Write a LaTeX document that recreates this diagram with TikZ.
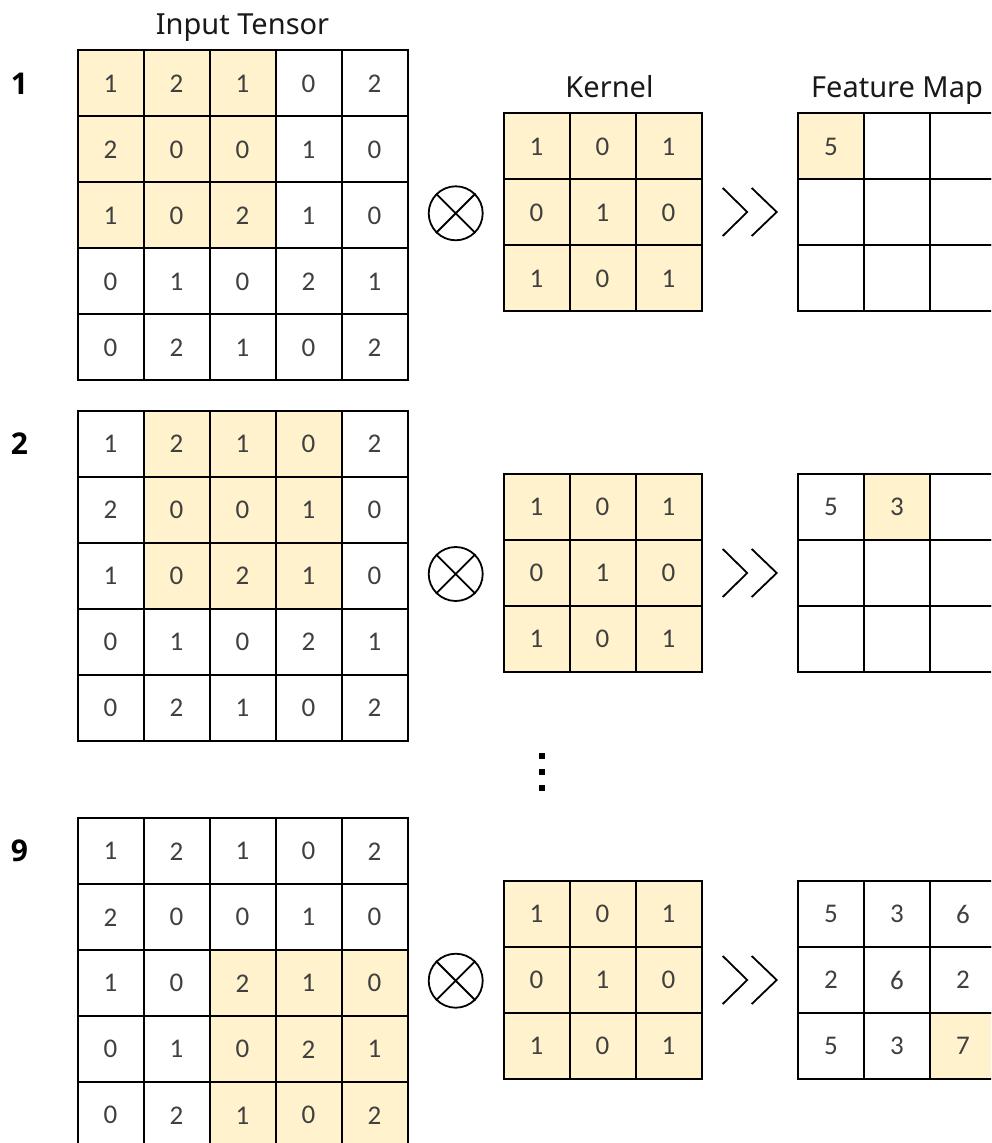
\documentclass[tikz,border=0pt]{standalone}
\usepackage{fontspec}
\usepackage{xcolor}
\usepackage{tikz}
\usetikzlibrary{positioning,calc}
\newfontfamily\cellfont{Carlito}
\newfontfamily\headfont{Noto Sans}
\newfontfamily\numfont{Open Sans}
\definecolor{winfill}{HTML}{FFF2CC}
\definecolor{digitgray}{HTML}{404040}
\newcommand{\inputvals}{1,2,1,0,2, 2,0,0,1,0, 1,0,2,1,0, 0,1,0,2,1, 0,2,1,0,2}
\newcommand{\kernelvals}{1,0,1, 0,1,0, 1,0,1}
% grid of cells: name, columns, left, top, window test, values
\newcommand{\cellgrid}[6]{%
  \edef\cellvals{#6}%
  \foreach \v [count=\i from 0] in \cellvals {
    \pgfmathtruncatemacro\rr{floor(\i/#2)}
    \pgfmathtruncatemacro\cc{mod(\i,#2)}
    \pgfmathtruncatemacro\hit{#5}
    \ifnum\hit=1 \def\cf{winfill}\else\def\cf{white}\fi
    \node[cell, fill=\cf] (#1-\rr-\cc) at ({#3+66*\cc+33},{#4+66*\rr+33}) {\v};
  }}
\tikzset{
  cell/.style  ={rectangle, draw=black, line width=1pt, minimum size=33pt,
                 inner sep=0pt, text=digitgray,
                 font=\cellfont\fontsize{13.5}{15}\selectfont},
  ttl/.style   ={font=\headfont\fontsize{14.5}{17}\selectfont,
                 text=black!90, inner sep=0pt},
  stepno/.style={font=\numfont\bfseries\fontsize{15}{18}\selectfont,
                 inner sep=0pt},
  conv/.style  ={circle, draw, line width=0.9pt, minimum size=27pt,
                 inner sep=0pt},
  chev/.style  ={line width=0.9pt},
}

\begin{document}
\begin{tikzpicture}[x=0.5pt, y=-0.5pt]
\useasboundingbox (0,0) rectangle (991,1143);
\clip (0,0) rectangle (991,1143);

% --- step 1 ---------------------------------------------------------
\cellgrid{in1}{5}{77.5}{50.5}{(\rr<3)&&(\cc<3)}{\inputvals}
\cellgrid{k1}{3}{503.5}{113.5}{1}{\kernelvals}
\cellgrid{f1}{3}{798}{113.5}{\i==0}{5,{},{},{},{},{},{},{},{}}
\node[stepno, left=24pt of in1-0-0] (s1) {1};
\node[conv] (o1) at (455.7,213.3) {};
\draw[chev] (o1.45) -- (o1.225) (o1.135) -- (o1.-45);
\coordinate (c1) at (722.7,212);
\draw[chev] ($(c1)+(0,-24)$) -- ++(24.5,24) -- ++(-24.5,24);
\draw[chev] ($(c1)+(29,-24)$) -- ++(25,24) -- ++(-25,24);

% --- titles ---------------------------------------------------------
\node[ttl, above=7.5pt of in1-0-2, anchor=base] (tin) {Input Tensor};
\node[ttl, above=7.5pt of k1-0-1, anchor=base, xshift=3.5pt] (tk) {Kernel};
\node[ttl, above=7.5pt of f1-0-1, anchor=base] (tf) {Feature Map};

% --- step 2 ---------------------------------------------------------
\cellgrid{in2}{5}{77.5}{410.7}{(\rr<3)&&(\cc>0)&&(\cc<4)}{\inputvals}
\cellgrid{k2}{3}{503.5}{474}{1}{\kernelvals}
\cellgrid{f2}{3}{798}{474}{\i==1}{5,3,{},{},{},{},{},{},{}}
\node[stepno, left=24pt of in2-0-0] (s2) {2};
\node[conv] (o2) at (455.7,574) {};
\draw[chev] (o2.45) -- (o2.225) (o2.135) -- (o2.-45);
\coordinate (c2) at (722.7,573);
\draw[chev] ($(c2)+(0,-24)$) -- ++(24.5,24) -- ++(-24.5,24);
\draw[chev] ($(c2)+(29,-24)$) -- ++(25,24) -- ++(-25,24);

% --- the skipped steps ----------------------------------------------
\foreach \d in {753,769,785}
  \fill (538.7,\d) rectangle +(6,6);

% --- step 9 ---------------------------------------------------------
\cellgrid{in9}{5}{77.5}{818.3}{(\rr>1)&&(\cc>1)}{\inputvals}
\cellgrid{k9}{3}{503.5}{881}{1}{\kernelvals}
\cellgrid{f9}{3}{798}{881}{\i==8}{5,3,6,2,6,2,5,3,7}
\node[stepno, left=24pt of in9-0-0] (s9) {9};
\node[conv] (o9) at (455.7,980.7) {};
\draw[chev] (o9.45) -- (o9.225) (o9.135) -- (o9.-45);
\coordinate (c9) at (722.7,980);
\draw[chev] ($(c9)+(0,-24)$) -- ++(24.5,24) -- ++(-24.5,24);
\draw[chev] ($(c9)+(29,-24)$) -- ++(25,24) -- ++(-25,24);
\end{tikzpicture}
\end{document}
